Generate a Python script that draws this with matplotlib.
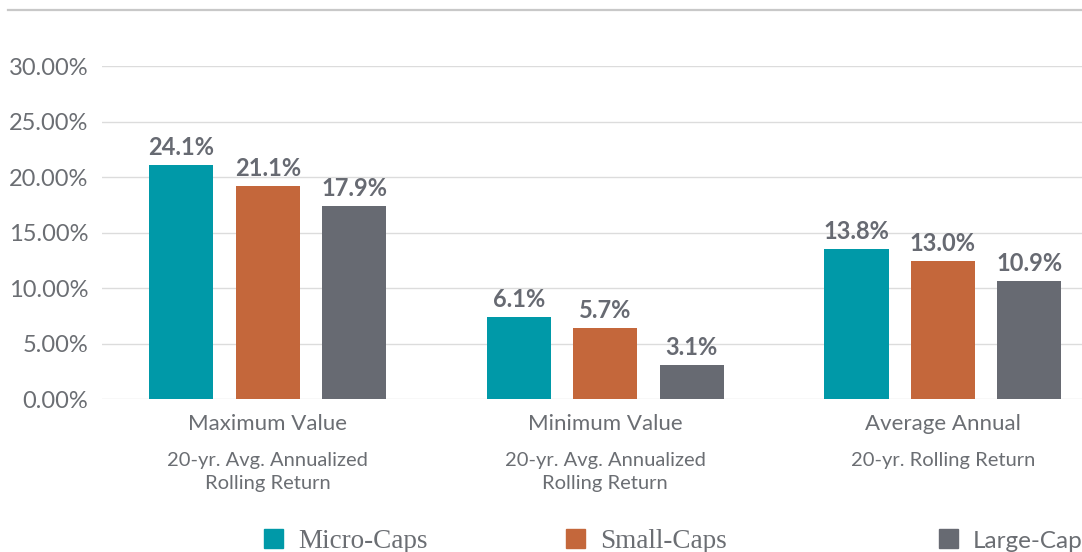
import matplotlib.pyplot as plt
from matplotlib.patches import Rectangle
import numpy as np

# data
groups = ["Maximum Value", "Minimum Value", "Average Annual"]
subtitles = ["20-yr. Avg. Annualized\nRolling Return",
             "20-yr. Avg. Annualized\nRolling Return",
             "20-yr. Rolling Return"]
series = ["Micro-Caps", "Small-Caps", "Large-Caps"]
# bar heights as drawn (percent)
micro = [21.1, 7.4, 13.55]
small = [19.2, 6.4, 12.45]
large = [17.4, 3.1, 10.65]
# printed labels
micro_lbl = ["24.1%", "6.1%", "13.8%"]
small_lbl = ["21.1%", "5.7%", "13.0%"]
large_lbl = ["17.9%", "3.1%", "10.9%"]
yticks = [0, 5, 10, 15, 20, 25, 30]

colors = ["#0099a8", "#c4673b", "#676a72"]
text_grey = "#6b6e73"
plt.rcParams['font.family'] = ['Lato', 'DejaVu Sans']

W, H = 1082, 552
fig = plt.figure(figsize=(W / 100, H / 100), dpi=100)
ax = fig.add_axes([102 / W, 1 - 399.3 / H, 1 - 102 / W, 333 / H])

x = np.arange(len(groups))
width = 0.19
offset = 0.256
for k, (vals, lbls) in enumerate([(micro, micro_lbl), (small, small_lbl), (large, large_lbl)]):
    bars = ax.bar(x + (k - 1) * offset, vals, width, color=colors[k], zorder=3)
    for b, t in zip(bars, lbls):
        ax.annotate(t, (b.get_x() + b.get_width() / 2, b.get_height()),
                    xytext=(0, 6), textcoords='offset pixels', ha='center', va='bottom',
                    fontsize=17, fontweight='bold', color="#676a72")

ax.set_xlim(-0.491, 2.412)
ax.set_ylim(0, 30)
ax.set_yticks(yticks)
ax.set_yticklabels([f"{v:.2f}%" for v in yticks], fontsize=17, color=text_grey)
ax.tick_params(axis='y', length=0, pad=10)
ax.tick_params(axis='x', length=0)
ax.set_xticks([])
ax.grid(axis='y', color='#dcdcdc', linewidth=1, zorder=0)
for s in ax.spines.values():
    s.set_visible(False)

for i in x:
    ax.annotate(groups[i], (i, 0), xycoords=('data', 'axes fraction'),
                xytext=(0, -25), textcoords='offset pixels', ha='center', va='center',
                fontsize=16, color=text_grey)
    ax.annotate(subtitles[i], (i, 0), xycoords=('data', 'axes fraction'),
                xytext=(0, -53), textcoords='offset pixels', ha='center', va='top',
                fontsize=14.5, color=text_grey, linespacing=1.4)

# top rule
fig.add_artist(plt.Line2D([8 / W, 1], [1 - 9.5 / H, 1 - 9.5 / H], color='#c8c8c8', linewidth=1.6))

# legend drawn by hand (serif for first two entries, sans for last, as in reference)
leg_x = [264, 566, 939]
leg_fonts = [['Liberation Serif'], ['Liberation Serif'], ['Lato']]
leg_size = [19.5, 19.5, 17.5]
for k in range(3):
    fig.add_artist(Rectangle((leg_x[k] / W, 1 - 548 / H), 19 / W, 19 / H,
                             transform=fig.transFigure, color=colors[k]))
    fig.text((leg_x[k] + 34) / W, 1 - 541 / H, series[k], ha='left', va='center',
             fontsize=leg_size[k], color=text_grey, family=leg_fonts[k])

fig.savefig("out.png", dpi=100)
